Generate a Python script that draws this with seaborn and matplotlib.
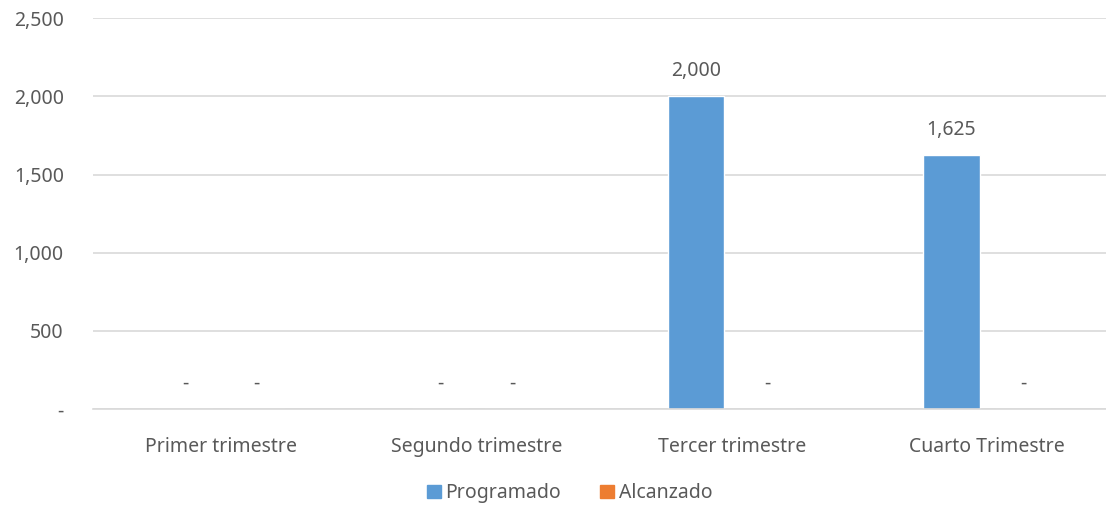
import pandas as pd
import matplotlib.pyplot as plt
import seaborn as sns

# datos
trimestres = ["Primer trimestre", "Segundo trimestre", "Tercer trimestre", "Cuarto Trimestre"]
programado = [0, 0, 2000, 1625]
alcanzado = [0, 0, 0, 0]
series = ["Programado", "Alcanzado"]
y_ticks = [0, 500, 1000, 1500, 2000, 2500]

df = pd.DataFrame({
    "trimestre": trimestres * 2,
    "valor": programado + alcanzado,
    "serie": [series[0]] * 4 + [series[1]] * 4,
})

sns.set_style("white")
plt.rcParams["font.family"] = ["Noto Sans", "DejaVu Sans"]
gris = "#595959"
colores = ["#5B9BD5", "#ED7D31"]

fig = plt.figure(figsize=(11.06, 5.05), dpi=100)
ax = fig.add_axes([0.0841, 0.19, 0.924, 0.774])

sns.barplot(data=df, x="trimestre", y="valor", hue="serie",
            palette=colores, saturation=1, width=0.56, gap=0.21,
            ax=ax, legend=False)

ax.set_ylim(0, 2500)
ax.set_xlim(-0.5, 3.5)
ax.set_yticks(y_ticks)
ax.set_yticklabels(["-" if v == 0 else f"{v:,}" for v in y_ticks])
ax.yaxis.grid(True, color="#D9D9D9", linewidth=1.2)
ax.set_axisbelow(True)
for s in ["top", "right", "left"]:
    ax.spines[s].set_visible(False)
ax.spines["bottom"].set_color("#D9D9D9")
ax.spines["bottom"].set_linewidth(1.2)
ax.tick_params(axis="both", length=0, labelsize=14, labelcolor=gris)
ax.tick_params(axis="x", pad=20)
ax.tick_params(axis="y", pad=21)
ax.set_xlabel("")
ax.set_ylabel("")

for cont in ax.containers:
    labels = ["-" if b.get_height() == 0 else f"{b.get_height():,.0f}" for b in cont]
    ax.bar_label(cont, labels=labels, padding=11, fontsize=14, color=gris)

handles = [plt.Rectangle((0, 0), 1, 1, color=c) for c in colores]
fig.legend(handles, series, loc="center", bbox_to_anchor=(0.515, 0.023), ncol=2,
           frameon=False, fontsize=14, handlelength=0.7, handleheight=0.7,
           handletextpad=0.25, columnspacing=2.0, labelcolor=gris)

plt.savefig("out.png", dpi=100)
